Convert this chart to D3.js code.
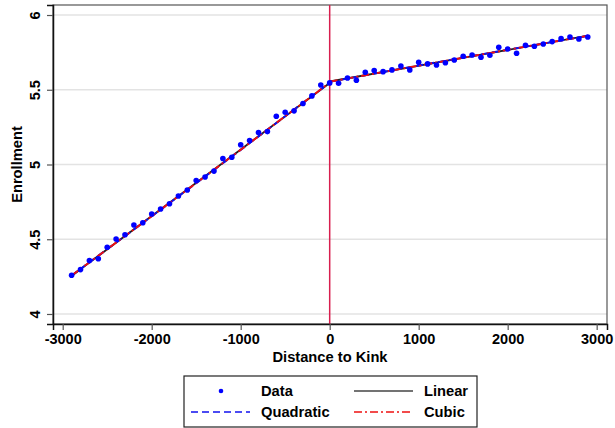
<!DOCTYPE html>
<html>
<head>
<meta charset="utf-8">
<script src="https://cdn.jsdelivr.net/npm/d3@7"></script>
<style>
  html, body { margin: 0; padding: 0; background: #fff; }
  svg text { font-family: "Liberation Sans", Arial, sans-serif; font-weight: bold; fill: #000; }
</style>
</head>
<body>
<svg id="chart" width="615" height="428"></svg>
<script>
/* ── DATA ── */
const binX = [-2900, -2800, -2700, -2600, -2500, -2400, -2300, -2200, -2100, -2000,
  -1900, -1800, -1700, -1600, -1500, -1400, -1300, -1200, -1100, -1000,
  -900, -800, -700, -600, -500, -400, -300, -200, -100, 0,
  100, 200, 300, 400, 500, 600, 700, 800, 900, 1000,
  1100, 1200, 1300, 1400, 1500, 1600, 1700, 1800, 1900, 2000,
  2100, 2200, 2300, 2400, 2500, 2600, 2700, 2800, 2900];
const enrollment = [4.259, 4.297, 4.357, 4.370, 4.446, 4.502, 4.530, 4.595, 4.610, 4.669,
  4.702, 4.737, 4.789, 4.829, 4.893, 4.916, 4.956, 5.040, 5.049, 5.132,
  5.160, 5.214, 5.220, 5.323, 5.350, 5.359, 5.408, 5.459, 5.532, 5.546,
  5.544, 5.579, 5.564, 5.617, 5.628, 5.621, 5.633, 5.659, 5.633, 5.684,
  5.673, 5.666, 5.681, 5.699, 5.724, 5.733, 5.717, 5.731, 5.784, 5.773,
  5.744, 5.797, 5.791, 5.806, 5.822, 5.842, 5.853, 5.840, 5.853];

// fitted lines, each side of the kink
const fitLeftX = [-2900, -1450, 0];
const fitRightX = [0, 1450, 2900];
const linearLeft = [4.255, 4.900, 5.545];
const linearRight = [5.555, 5.708, 5.862];
const quadLeft = [4.258, 4.897, 5.548];
const quadRight = [5.553, 5.710, 5.860];
const cubicLeft = [4.257, 4.898, 5.547];
const cubicRight = [5.554, 5.709, 5.861];

const xTicks = [-3000, -2000, -1000, 0, 1000, 2000, 3000];
const yTicks = [4, 4.5, 5, 5.5, 6];
const legendItems = ['Data', 'Linear', 'Quadratic', 'Cubic'];

/* ── CHART ── */
(function () {
  const svg = d3.select('#chart');
  const L = 53, R = 607, T = 5, B = 324;

  const x = d3.scaleLinear().domain([-3109, 3116]).range([L, R]);
  const y = d3.scaleLinear().domain([3.933, 6.067]).range([B, T]);

  // grid
  svg.append('g').selectAll('line').data(yTicks).join('line')
    .attr('x1', L).attr('x2', R)
    .attr('y1', d => y(d)).attr('y2', d => y(d))
    .attr('stroke', '#e3e3e3').attr('stroke-width', 1.5);

  // frame
  svg.append('rect').attr('x', L).attr('y', T).attr('width', R - L).attr('height', B - T)
    .attr('fill', 'none').attr('stroke', '#555').attr('stroke-width', 1.2);

  // kink line
  svg.append('line')
    .attr('x1', x(0)).attr('x2', x(0)).attr('y1', T).attr('y2', B)
    .attr('stroke', '#d81e4e').attr('stroke-width', 1.5);

  // axes
  const xAxis = svg.append('g').attr('transform', `translate(0,${B})`)
    .call(d3.axisBottom(x).tickValues(xTicks).tickSize(6).tickPadding(4).tickFormat(d => String(d)));
  const yAxis = svg.append('g').attr('transform', `translate(${L},0)`)
    .call(d3.axisLeft(y).tickValues(yTicks).tickSize(6).tickFormat(d => String(d)));
  [xAxis, yAxis].forEach(g => {
    g.select('.domain').attr('stroke', '#111').attr('stroke-width', 1.5);
    g.selectAll('.tick line').attr('stroke', '#555').attr('stroke-width', 1.2);
    g.selectAll('text').attr('font-size', 14.5).attr('fill', '#000')
      .style('font-family', '"Liberation Sans", Arial, sans-serif').style('font-weight', 'bold');
  });
  xAxis.selectAll('text').attr('dy', null).attr('y', 20);
  yAxis.selectAll('text')
    .attr('x', null).attr('dy', null).attr('text-anchor', 'middle')
    .attr('transform', d => `translate(${40 - L},0) rotate(-90)`);

  // titles
  svg.append('text').attr('x', (L + R) / 2).attr('y', 362)
    .attr('text-anchor', 'middle').attr('font-size', 14.7).text('Distance to Kink');
  svg.append('text').attr('transform', `translate(22,${(T + B) / 2}) rotate(-90)`)
    .attr('text-anchor', 'middle').attr('font-size', 14.7).text('Enrollment');

  // fits
  const line = d3.line().x(d => x(d[0])).y(d => y(d[1])).curve(d3.curveNatural);
  const fits = [
    { l: linearLeft, r: linearRight, col: '#222', dash: null },
    { l: quadLeft, r: quadRight, col: '#1010ee', dash: '7,4' },
    { l: cubicLeft, r: cubicRight, col: '#ee1010', dash: '8,3,2,3' },
  ];
  fits.forEach(f => {
    [[fitLeftX, f.l], [fitRightX, f.r]].forEach(([xs, ys]) => {
      svg.append('path').datum(xs.map((v, i) => [v, ys[i]]))
        .attr('d', line).attr('fill', 'none')
        .attr('stroke', f.col).attr('stroke-width', 1.9)
        .attr('stroke-dasharray', f.dash);
    });
  });

  // data points
  svg.append('g').selectAll('circle').data(binX).join('circle')
    .attr('cx', d => x(d)).attr('cy', (d, i) => y(enrollment[i]))
    .attr('r', 2.8).attr('fill', '#0000ff');

  // legend
  const lg = svg.append('g');
  lg.append('rect').attr('x', 184).attr('y', 376).attr('width', 293).attr('height', 51)
    .attr('fill', '#fff').attr('stroke', '#222').attr('stroke-width', 1.2);
  const rows = [
    { name: legendItems[0], lx: 191, ly: 391, type: 'dot' },
    { name: legendItems[1], lx: 354, ly: 391, type: 'line', col: '#444', dash: null },
    { name: legendItems[2], lx: 191, ly: 412, type: 'line', col: '#1010ee', dash: '7,4' },
    { name: legendItems[3], lx: 354, ly: 412, type: 'line', col: '#ee1010', dash: '8,3,2,3' },
  ];
  rows.forEach(r => {
    if (r.type === 'dot') {
      lg.append('circle').attr('cx', r.lx + 30).attr('cy', r.ly).attr('r', 2.3).attr('fill', '#0000ff');
    } else {
      lg.append('line').attr('x1', r.lx).attr('x2', r.lx + 59).attr('y1', r.ly).attr('y2', r.ly)
        .attr('stroke', r.col).attr('stroke-width', 1.5).attr('stroke-dasharray', r.dash);
    }
    lg.append('text').attr('x', r.lx + 70).attr('y', r.ly + 5)
      .attr('font-size', 14.7).text(r.name);
  });
})();
</script>
</body>
</html>
